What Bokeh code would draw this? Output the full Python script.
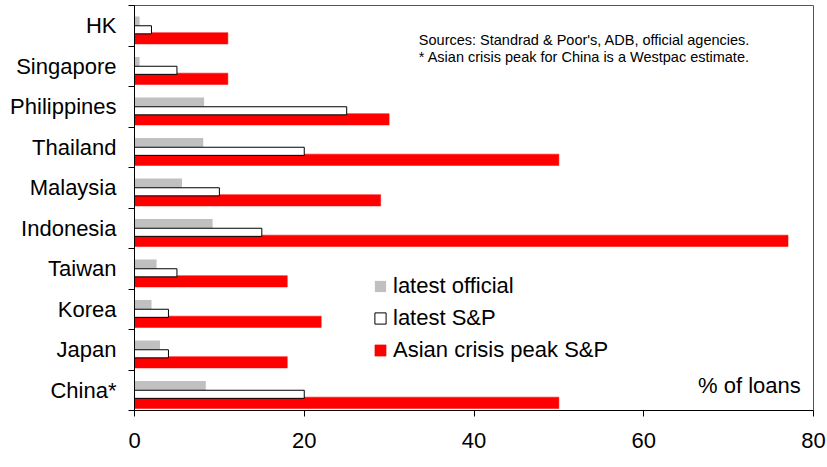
from bokeh.plotting import figure
from bokeh.models import (FixedTicker, Legend, LegendItem, Label, Range1d,
                          ColumnDataSource)
from bokeh.embed import file_html
from bokeh.resources import INLINE

categories = ["HK", "Singapore", "Philippines", "Thailand", "Malaysia",
              "Indonesia", "Taiwan", "Korea", "Japan", "China*"]
latest_official = [0.6, 0.6, 8.2, 8.1, 5.6, 9.2, 2.6, 2.0, 3.0, 8.4]
latest_sp = [2, 5, 25, 20, 10, 15, 5, 4, 4, 20]
crisis_peak_sp = [11, 11, 30, 50, 29, 77, 18, 22, 18, 50]
x_ticks = [0, 20, 40, 60, 80]
series_names = ["latest official", "latest S&P", "Asian crisis peak S&P"]

FONT = "Liberation Sans"
n = len(categories)
base = [n - 1 - i for i in range(n)]  # first category at top

src = ColumnDataSource(dict(
    cat=categories,
    off=latest_official,
    sp=latest_sp,
    peak=crisis_peak_sp,
    y_off=[b + 0.615 for b in base],
    y_sp=[b + 0.40 for b in base],
    y_peak=[b + 0.19 for b in base],
))

p = figure(width=827, height=467, x_range=Range1d(0, 80), y_range=Range1d(0, n),
           output_backend="svg", toolbar_location=None,
           min_border_left=134, min_border_right=14, min_border_top=5,
           min_border_bottom=57)
p.xgrid.visible = False
p.ygrid.visible = False
p.outline_line_color = "#555555"
p.outline_line_width = 1
p.background_fill_color = "white"
p.border_fill_color = "white"

r_off = p.hbar(y="y_off", left=0, right="off", height=0.23, source=src,
               fill_color="#C0C0C0", line_color=None)
r_peak = p.hbar(y="y_peak", left=0, right="peak", height=0.28, source=src,
                fill_color="#FF0000", line_color="#FF0000", line_width=0.5)
r_sp = p.hbar(y="y_sp", left=0, right="sp", height=0.20, source=src,
              fill_color="white", line_color="black", line_width=1)

# x axis
xa = p.xaxis[0]
xa.ticker = FixedTicker(ticks=x_ticks)
xa.major_tick_out = 6
xa.major_tick_in = 0
xa.minor_tick_out = 0
xa.minor_tick_in = 0
xa.axis_line_color = "black"
xa.major_tick_line_color = "black"
xa.major_label_text_font = FONT
xa.major_label_text_font_size = "22px"
xa.major_label_text_color = "black"
xa.major_label_standoff = 16

# y axis: labels at band centres, tick marks at band boundaries
ya = p.yaxis[0]
centers = [b + 0.5 for b in base]
ya.ticker = FixedTicker(ticks=centers, minor_ticks=list(range(n + 1)))
ya.major_label_overrides = {c: lab for c, lab in zip(centers, categories)}
ya.major_tick_out = 0
ya.major_tick_in = 0
ya.minor_tick_out = 6
ya.minor_tick_in = 0
ya.minor_tick_line_color = "black"
ya.axis_line_color = "black"
ya.major_label_text_font = FONT
ya.major_label_text_font_size = "22px"
ya.major_label_text_color = "black"
ya.major_label_standoff = 12

legend = Legend(items=[
    LegendItem(label=series_names[0], renderers=[r_off]),
    LegendItem(label=series_names[1], renderers=[r_sp]),
    LegendItem(label=series_names[2], renderers=[r_peak]),
], location=(239, 47), glyph_width=14, glyph_height=14, label_standoff=6,
    spacing=6, padding=0, margin=0, border_line_color=None,
    background_fill_alpha=0, label_text_font=FONT,
    label_text_font_size="22px", label_text_color="black")
p.add_layout(legend)

p.add_layout(Label(x=78.5, y=0.62, text="% of loans", text_align="right",
                   text_baseline="middle", text_font=FONT,
                   text_font_size="22px", text_color="black"))
p.add_layout(Label(x=33.5, y=9.16,
                   text="Sources: Standrad & Poor's, ADB, official agencies.",
                   text_align="left", text_baseline="middle", text_font=FONT,
                   text_font_size="14.5px", text_color="black"))
p.add_layout(Label(x=33.5, y=8.72,
                   text="* Asian crisis peak for China is a Westpac estimate.",
                   text_align="left", text_baseline="middle", text_font=FONT,
                   text_font_size="14.5px", text_color="black"))

open("out.html", "w").write(file_html(p, INLINE))
